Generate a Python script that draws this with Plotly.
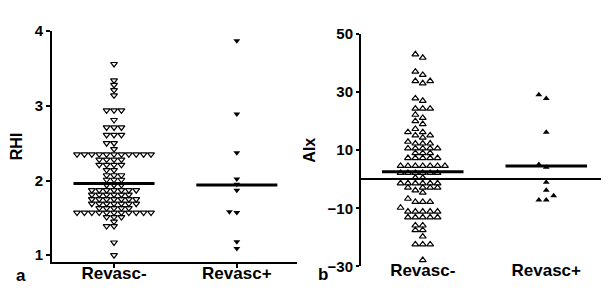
import plotly.graph_objects as go

# ---------------- data ----------------
categories = ["Revasc-", "Revasc+"]

rhi_revasc_neg = [3.56, 3.34, 3.28, 3.21, 3.14,
                  2.94, 2.94, 2.94, 2.81,
                  2.71, 2.71, 2.71, 2.61, 2.61, 2.61, 2.50, 2.50, 2.42,
                  2.35, 2.35, 2.35, 2.35, 2.35, 2.35, 2.35, 2.35, 2.35, 2.35, 2.35,
                  2.28, 2.28, 2.28, 2.28,
                  2.21, 2.21, 2.21, 2.21,
                  2.14, 2.14,
                  2.07, 2.07, 2.07,
                  2.01, 2.01, 2.01,
                  1.94, 1.94, 1.94,
                  1.87, 1.87, 1.87, 1.87, 1.87, 1.87, 1.87,
                  1.81, 1.81, 1.81, 1.81, 1.81, 1.81,
                  1.75, 1.75, 1.75, 1.75, 1.75, 1.75, 1.75,
                  1.69, 1.69, 1.69, 1.69, 1.69, 1.69, 1.69,
                  1.63, 1.63, 1.63, 1.63, 1.63,
                  1.57, 1.57, 1.57, 1.57, 1.57, 1.57, 1.57, 1.57, 1.57, 1.57, 1.57,
                  1.51, 1.51, 1.51,
                  1.45, 1.39, 1.39, 1.17, 1.00]
rhi_revasc_pos = [3.87, 2.89, 2.37, 2.02, 1.95, 1.87, 1.58, 1.57, 1.18, 1.09]
rhi_medians = [1.96, 1.94]

aix_revasc_neg = [43.0, 41.8, 37.0, 35.9, 33.8, 33.0, 33.8, 27.8, 27.0,
                  24.3, 24.3, 24.3, 22.2, 21.1, 20.0, 19.0, 17.3,
                  16.2, 15.1, 14.3, 15.1, 16.2, 12.9, 12.3, 12.3, 12.3,
                  10.6, 10.6, 10.6, 10.6, 10.6, 9.0, 9.0, 9.0,
                  7.3, 7.3, 7.3, 7.3, 7.3,
                  4.6, 4.6, 4.6, 4.6, 4.6, 4.6, 4.6,
                  2.2, 2.2, 2.2, 2.2, 2.2, 2.2, 0.5, 0.5,
                  -1.4, -1.4, -1.4, -1.4, -1.4, -1.4,
                  -2.9, -2.9, -2.9, -2.9, -3.8, -4.6,
                  -6.7, -7.8, -7.8, -7.8, -9.8,
                  -11.1, -11.1, -11.1, -11.1, -11.1,
                  -13.1, -13.1, -13.1, -13.1, -13.1,
                  -15.9, -15.9, -17.5, -17.5, -19.7,
                  -22.4, -22.4, -22.4, -27.8]
aix_revasc_pos = [29.1, 27.8, 16.2, 5.1, 4.1, -1.0, -3.8, -5.7, -7.1, -7.1]
aix_medians = [2.55, 4.6]

rhi_ticks = [1, 2, 3, 4]
aix_ticks = [-30, -10, 10, 30, 50]

# ---------------- layout geometry ----------------
W, H = 609, 290
xa_dom = [44 / W, 289 / W]
ya_dom = [1 - 260 / H, 1 - 15 / H]
xb_dom = [353 / W, 600 / W]
yb_dom = [1 - 265 / H, 1 - 18 / H]
xa_rng = [-0.505, 1.49]
ya_rng = [0.912, 4.0]
xb_rng = [-0.5, 1.5]
yb_rng = [-30, 50]

def scale(dom, rng, size):
    return (dom[1] - dom[0]) * size / (rng[1] - rng[0])

def swarm(vals, center, py, px, step_px=7.4, thr_px=4.5):
    """Simple column beeswarm: horizontal offsets computed from the values."""
    order = sorted(range(len(vals)), key=lambda i: vals[i])
    placed = []
    xs = [0.0] * len(vals)
    for i in order:
        y = vals[i] * py
        k = 0
        while True:
            c = ((k + 1) // 2) * (-1 if k % 2 else 1)
            if all(not (pc == c and abs(pyv - y) < thr_px) for pc, pyv in placed):
                break
            k += 1
        placed.append((c, y))
        xs[i] = center + c * step_px / px
    return xs

pa_x, pa_y = scale(xa_dom, xa_rng, W), scale(ya_dom, ya_rng, H)
pb_x, pb_y = scale(xb_dom, xb_rng, W), scale(yb_dom, yb_rng, H)

FONT = "Arial, Liberation Sans, sans-serif"
fig = go.Figure()

open_line = dict(color="black", width=1.2)
MS = 6

# panel a
fig.add_trace(go.Scatter(x=swarm(rhi_revasc_neg, 0, pa_y, pa_x), y=rhi_revasc_neg, mode="markers",
                         marker=dict(symbol="triangle-down-open", size=MS, color="black", line=open_line),
                         xaxis="x", yaxis="y", showlegend=False))
fig.add_trace(go.Scatter(x=swarm(rhi_revasc_pos, 1, pa_y, pa_x), y=rhi_revasc_pos, mode="markers",
                         marker=dict(symbol="triangle-down", size=MS, color="black"),
                         xaxis="x", yaxis="y", showlegend=False))
for i, m in enumerate(rhi_medians):
    fig.add_trace(go.Scatter(x=[i - 0.33, i + 0.33], y=[m, m], mode="lines",
                             line=dict(color="black", width=3), xaxis="x", yaxis="y", showlegend=False))

# panel b
fig.add_trace(go.Scatter(x=swarm(aix_revasc_neg, 0, pb_y, pb_x), y=aix_revasc_neg, mode="markers",
                         marker=dict(symbol="triangle-up-open", size=MS, color="black", line=open_line),
                         xaxis="x2", yaxis="y2", showlegend=False))
fig.add_trace(go.Scatter(x=swarm(aix_revasc_pos, 1, pb_y, pb_x), y=aix_revasc_pos, mode="markers",
                         marker=dict(symbol="triangle-up", size=MS, color="black"),
                         xaxis="x2", yaxis="y2", showlegend=False))
for i, m in enumerate(aix_medians):
    fig.add_trace(go.Scatter(x=[i - 0.33, i + 0.33], y=[m, m], mode="lines",
                             line=dict(color="black", width=3), xaxis="x2", yaxis="y2", showlegend=False))

tickfont_y = dict(family=FONT, size=15, color="black", weight="bold")
tickfont_x = dict(family=FONT, size=17, color="black", weight="bold")
titlefont = dict(family=FONT, size=16, color="black", weight="bold")

fig.update_layout(
    width=W, height=H, margin=dict(l=0, r=0, t=0, b=0),
    paper_bgcolor="white", plot_bgcolor="white",
    xaxis=dict(domain=xa_dom, range=xa_rng, anchor="y", tickvals=[0, 1], ticktext=categories,
               showline=True, linecolor="black", linewidth=2, ticks="outside", ticklen=4,
               tickcolor="black", tickwidth=1.5, showgrid=False, zeroline=False, tickfont=tickfont_x,
               ticklabelstandoff=-9),
    yaxis=dict(domain=ya_dom, range=ya_rng, anchor="x", tickvals=rhi_ticks,
               showline=True, linecolor="black", linewidth=2, ticks="outside", ticklen=4,
               tickcolor="black", tickwidth=1.5, showgrid=False, zeroline=False, tickfont=tickfont_y,
               title=dict(text="RHI", font=titlefont, standoff=14)),
    xaxis2=dict(domain=xb_dom, range=xb_rng, anchor="y2", tickvals=[0, 1], ticktext=categories,
                showline=False, ticks="", showgrid=False, zeroline=False, tickfont=tickfont_x,
                ticklabelstandoff=-8),
    yaxis2=dict(domain=yb_dom, range=yb_rng, anchor="x2", tickvals=aix_ticks,
                showline=True, linecolor="black", linewidth=2, ticks="outside", ticklen=3,
                tickcolor="black", tickwidth=1.5, showgrid=False,
                zeroline=True, zerolinecolor="black", zerolinewidth=1.5, tickfont=tickfont_y,
                title=dict(text="AIx", font=titlefont, standoff=8)),
    annotations=[
        dict(text="a", x=13 / W, y=1 - 275 / H, xref="paper", yref="paper", showarrow=False,
             xanchor="center", yanchor="middle",
             font=dict(family=FONT, size=17, color="black", weight="bold")),
        dict(text="b", x=315 / W, y=1 - 274 / H, xref="paper", yref="paper", showarrow=False,
             xanchor="center", yanchor="middle",
             font=dict(family=FONT, size=17, color="black", weight="bold")),
    ],
)

fig.write_html("out.html")
